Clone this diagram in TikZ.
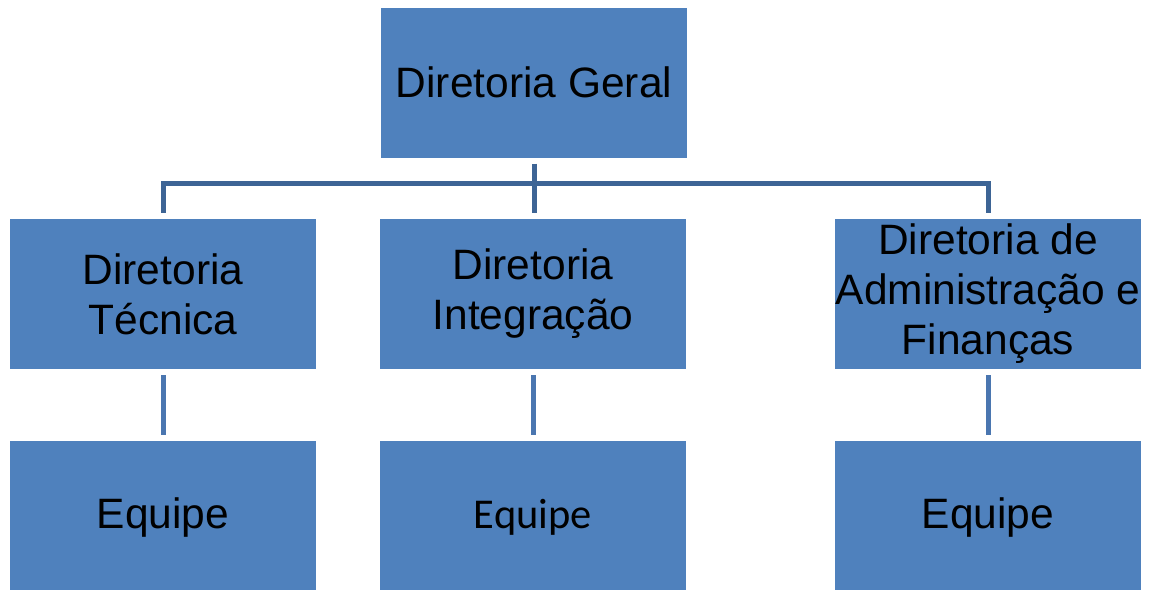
\documentclass[tikz,border=0pt]{standalone}
\usepackage{fontspec}
\setmainfont{Liberation Sans}
\newfontfamily\calfont{Carlito}
\definecolor{boxblue}{HTML}{4F81BD}
\definecolor{busblue}{HTML}{3D6495}
\definecolor{linkblue}{HTML}{4A76B0}
\begin{document}
\begin{tikzpicture}[x=1pt,y=-1pt,
  orgbox/.style={fill=boxblue, draw=none, minimum width=306pt, minimum height=150pt,
    inner sep=0pt, align=center, font=\fontsize{42.5}{50}\selectfont},
  bus/.style={draw=busblue, line width=5pt},
  link/.style={draw=linkblue, line width=5pt}]
\useasboundingbox (0,0) rectangle (1150,589);
\node[orgbox] (top) at (534,82.5) {Diretoria Geral};
\node[orgbox] (tec) at (163,294) {Diretoria\\Técnica};
\node[orgbox] (int) at (533,294) {Diretoria\\Integração};
\node[orgbox] (adm) at (988,294) {Diretoria de\\Administração e\\Finanças};
\node[orgbox, text depth=5pt] (eq1) at (163,516) {Equipe};
\node[orgbox, text depth=5pt] (eq2) at (533,516) {\calfont Equipe};
\node[orgbox, text depth=5pt] (eq3) at (988,516) {Equipe};
\coordinate (busy) at (534,183);
\draw[bus] ([yshift=-6pt]top.south) -- ([yshift=6pt]top.south |- int.north);
\draw[bus, line join=miter] ([yshift=6pt]tec.north) -- (tec.north |- busy) -- (adm.north |- busy) -- ([yshift=6pt]adm.north);
\draw[link] ([yshift=-6pt]tec.south) -- ([yshift=6pt]eq1.north);
\draw[link] ([yshift=-6pt]int.south) -- ([yshift=6pt]eq2.north);
\draw[link] ([yshift=-6pt]adm.south) -- ([yshift=6pt]eq3.north);
\end{tikzpicture}
\end{document}
